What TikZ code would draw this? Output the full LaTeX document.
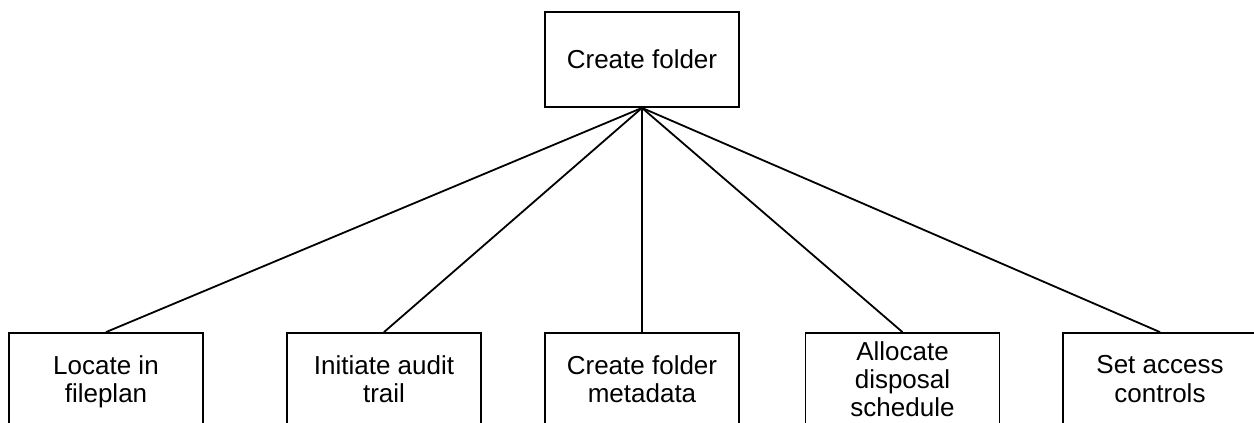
\documentclass[tikz,border=0pt]{standalone}
\usepackage{fontspec}
\setmainfont{Liberation Sans}
\usepackage{tikz}

\begin{document}
\begin{tikzpicture}[x=1pt,y=1pt,yscale=-1,xscale=1,
  taskbox/.style={draw, line width=1.8, minimum width=194, minimum height=92, align=center, text depth=0pt, inner sep=2, font=\fontsize{26}{28.4}\selectfont},
  link/.style={line width=1.8}]
\useasboundingbox (0,0) rectangle (1254,423);
\clip (0,0) rectangle (1254,423);
%Shape: Rectangle [top]
\node[taskbox, minimum height=95] (create) at (642,59.5) {Create folder};
%Shape: Rectangle [row]
\node[taskbox] (locate) at (106,379) {Locate in\\fileplan};
\node[taskbox] (audit) at (384,379) {Initiate audit\\trail};
\node[taskbox] (meta) at (642,379) {Create folder\\metadata};
\node[taskbox] (dispose) at (902.5,379) {Allocate\\disposal\\schedule};
\node[taskbox] (access) at (1160,379) {Set access\\controls};
%Straight Lines
\draw[link] (create.south) -- (locate.north);
\draw[link] (create.south) -- (audit.north);
\draw[link] (create.south) -- (meta.north);
\draw[link] (create.south) -- (dispose.north);
\draw[link] (create.south) -- (access.north);
\end{tikzpicture}
\end{document}
